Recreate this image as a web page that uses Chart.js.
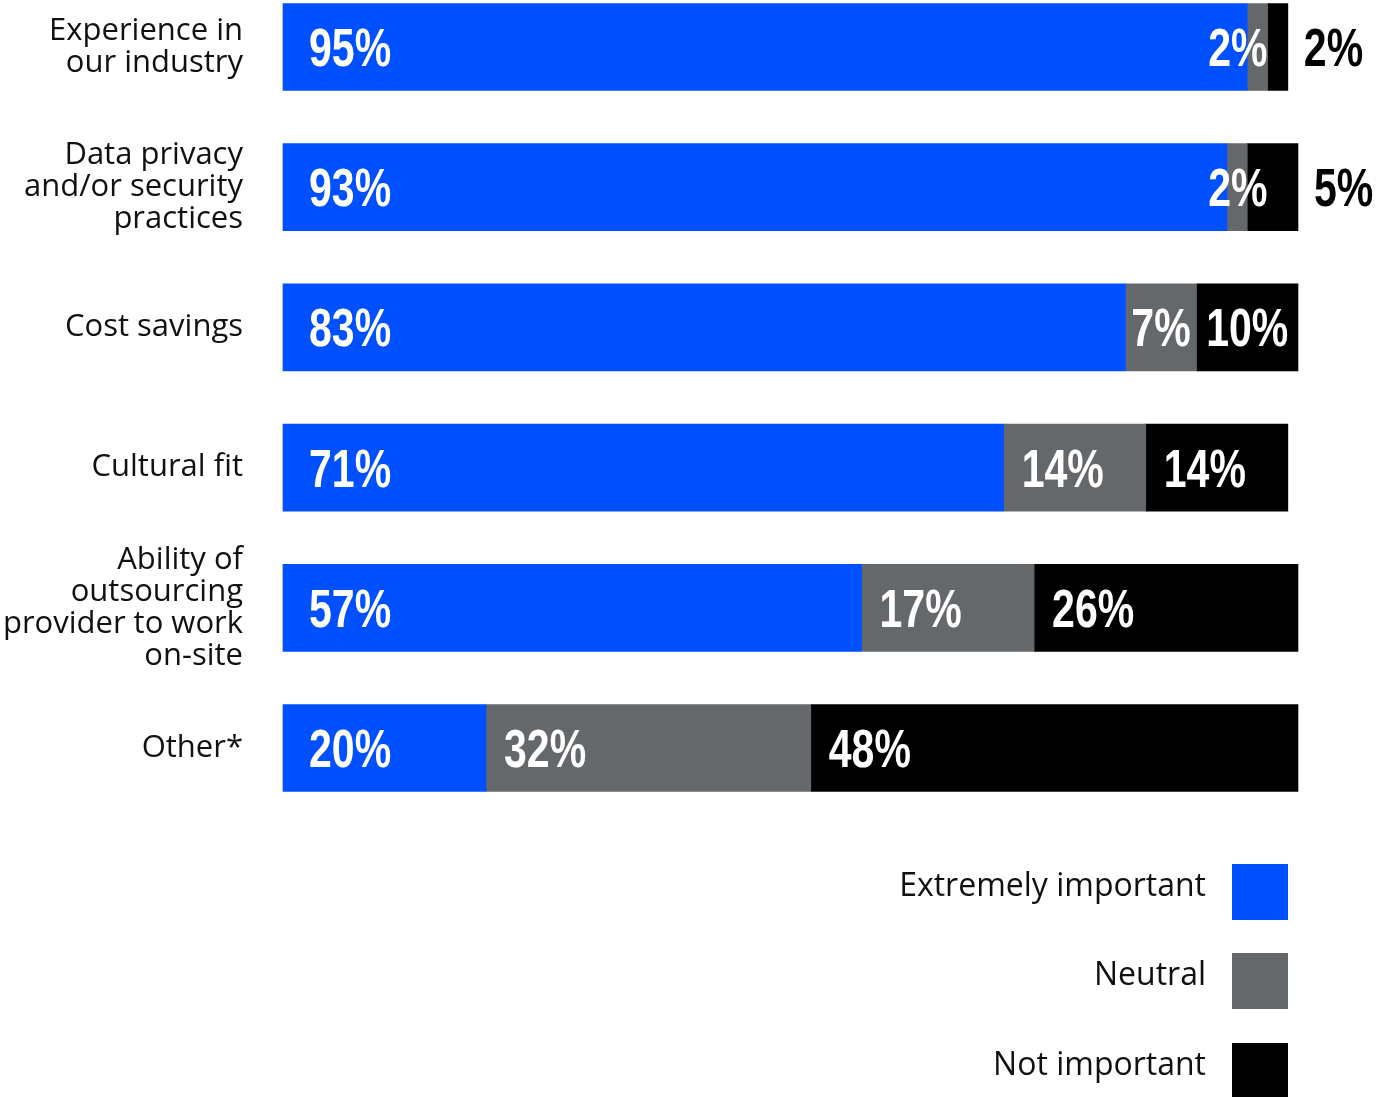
<!DOCTYPE html>
<html>
<head>
<meta charset="utf-8">
<script src="https://cdn.jsdelivr.net/npm/chart.js@4.4.1/dist/chart.umd.min.js"></script>
<style>
  html, body { margin: 0; padding: 0; background: #fff; }
  #wrap { position: relative; width: 1377px; height: 1097px; }
</style>
</head>
<body>
<div id="wrap"><canvas id="chart"></canvas></div>
<script>
  const categories = [
    ['Experience in', 'our industry'],
    ['Data privacy', 'and/or security', 'practices'],
    'Cost savings',
    'Cultural fit',
    ['Ability of', 'outsourcing', 'provider to work', 'on-site'],
    'Other*'
  ];
  const seriesNames  = ['Extremely important', 'Neutral', 'Not important'];
  const extremely    = [95, 93, 83, 71, 57, 20];
  const neutral      = [2, 2, 7, 14, 17, 32];
  const notImportant = [2, 5, 10, 14, 26, 48];
  const colors = ['#0050ff', '#65686b', '#000000'];

  const LABEL_FONT = 'bold 54px "Liberation Sans", Arial, sans-serif';
  const SQUEEZE = 0.76;
  const TEXT_FONT = '"Open Sans", "Noto Sans", sans-serif';

  // percentage labels, drawn condensed by squeezing the glyphs horizontally
  function drawPct(ctx, text, x, y, align, color) {
    ctx.save();
    ctx.font = LABEL_FONT;
    const w = ctx.measureText(text).width * SQUEEZE;
    const left = align === 'right' ? x - w : x;
    ctx.translate(left, y);
    ctx.scale(SQUEEZE, 1);
    ctx.fillStyle = color;
    ctx.textAlign = 'left';
    ctx.textBaseline = 'alphabetic';
    ctx.fillText(text, 0, 0);
    ctx.restore();
    return w;
  }

  const pctLabels = {
    id: 'pctLabels',
    afterDatasetsDraw(chart) {
      const ctx = chart.ctx;
      const xs = chart.scales.x;
      chart.data.datasets.forEach((ds, di) => {
        chart.getDatasetMeta(di).data.forEach((bar, i) => {
          const v = ds.data[i];
          const text = v + '%';
          const y = bar.y + 19;
          const start = Math.min(bar.base, bar.x);
          const width = Math.abs(bar.x - bar.base);
          ctx.save();
          ctx.font = LABEL_FONT;
          const tw = ctx.measureText(text).width * SQUEEZE;
          ctx.restore();
          if (di === 1 && v <= 2) {
            drawPct(ctx, text, xs.getPixelForValue(97), y, 'right', '#fff');
          } else if (di === 2 && v <= 5) {
            drawPct(ctx, text, bar.x + 16, y, 'left', '#000');
          } else {
            const maxPad = di === 0 ? 26 : 18;
            const pad = Math.max(5, Math.min(maxPad, (width - tw) / 2));
            drawPct(ctx, text, start + pad, y, 'left', '#fff');
          }
        });
      });
    }
  };

  const sideLegend = {
    id: 'sideLegend',
    afterDraw(chart) {
      const ctx = chart.ctx;
      const tops = [864, 953, 1043];
      ctx.save();
      ctx.font = '32px ' + TEXT_FONT;
      ctx.textAlign = 'right';
      ctx.textBaseline = 'middle';
      seriesNames.forEach((name, i) => {
        ctx.fillStyle = colors[i];
        ctx.fillRect(1232, tops[i], 56, 56);
        ctx.fillStyle = '#111';
        ctx.fillText(name, 1206, tops[i] + 23);
      });
      ctx.restore();
    }
  };

  new Chart(document.getElementById('chart'), {
    type: 'bar',
    data: {
      labels: categories,
      datasets: [extremely, neutral, notImportant].map((d, i) => ({
        label: seriesNames[i],
        data: d,
        backgroundColor: colors[i],
        borderWidth: 0,
        barThickness: 87,
        clip: false
      }))
    },
    options: {
      indexAxis: 'y',
      responsive: true,
      maintainAspectRatio: false,
      animation: false,
      layout: { padding: { top: 47, bottom: 349, right: 79, left: 0 } },
      plugins: { legend: { display: false }, tooltip: { enabled: false } },
      scales: {
        x: {
          stacked: true, min: 0, max: 100, display: false
        },
        y: {
          stacked: true,
          offset: false,
          grid: { display: false, drawTicks: false },
          border: { display: false },
          afterFit: s => {
            s.width = 283;
            s.paddingTop = 0;
            s.paddingBottom = 0;
          },
          ticks: {
            color: '#111',
            padding: 40,
            font: { family: TEXT_FONT, size: 31, lineHeight: 1.03 }
          }
        }
      }
    },
    plugins: [pctLabels, sideLegend]
  });
</script>
</body>
</html>
